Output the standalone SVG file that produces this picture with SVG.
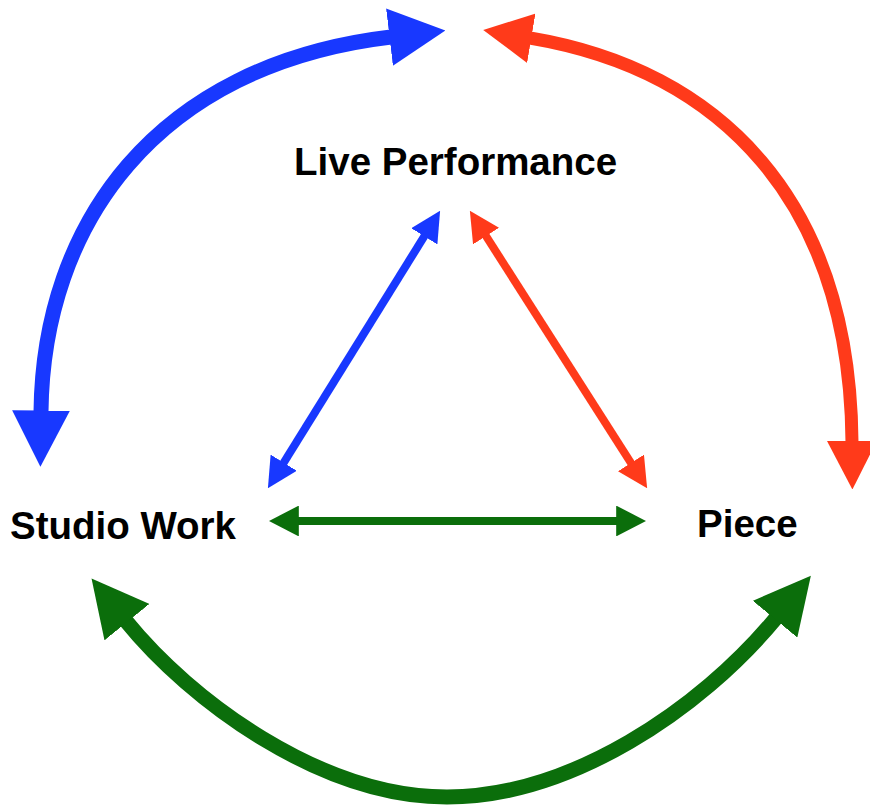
<svg xmlns="http://www.w3.org/2000/svg" width="870" height="806" viewBox="0 0 870 806">
  <style>
    .label { font-family: "Liberation Sans", Arial, Helvetica, sans-serif; font-weight: bold; font-size: 38.5px; fill: #000; }
    .link { fill: none; stroke-linecap: butt; }
    .blue { stroke: #1838FF; }
    .red { stroke: #FF3A1A; }
    .green { stroke: #0B6E0B; }
    .thick { stroke-width: 15; }
    .thin { stroke-width: 8; }
  </style>
  <defs>
    <!-- arrowheads sized in stroke-width units so thick and thin links share them -->
    <marker id="head-blue" viewBox="0 0 37.5 38.5" refX="1" refY="19.25" markerWidth="3.75" markerHeight="3.85" orient="auto-start-reverse">
      <path d="M0,0 L37.5,19.25 L0,38.5 Z" fill="#1838FF"/>
    </marker>
    <marker id="head-red" viewBox="0 0 37.5 38.5" refX="1" refY="19.25" markerWidth="3.75" markerHeight="3.85" orient="auto-start-reverse">
      <path d="M0,0 L37.5,19.25 L0,38.5 Z" fill="#FF3A1A"/>
    </marker>
    <marker id="head-green" viewBox="0 0 37.5 38.5" refX="1" refY="19.25" markerWidth="3.75" markerHeight="3.85" orient="auto-start-reverse">
      <path d="M0,0 L37.5,19.25 L0,38.5 Z" fill="#0B6E0B"/>
    </marker>
  </defs>

  <rect width="870" height="806" fill="#ffffff"/>

  <g id="connectors">
    <!-- outer arcs -->
    <path id="arc-studio-live" class="link blue thick" d="M41,412 C43,225 155,65 391,37" marker-start="url(#head-blue)" marker-end="url(#head-blue)"/>
    <path id="arc-live-piece" class="link red" stroke-width="13" d="M530,38 C720,70 850,200 852,442" marker-start="url(#head-red)" marker-end="url(#head-red)"/>
    <path id="arc-studio-piece" class="link green thick" d="M126,621 C190,700 320,797 447,797 C570,797 700,710 776,618" marker-start="url(#head-green)" marker-end="url(#head-green)"/>
    <!-- inner triangle -->
    <path id="edge-studio-live" class="link blue thin" d="M283.3,463.4 L424.7,235.6" marker-start="url(#head-blue)" marker-end="url(#head-blue)"/>
    <path id="edge-live-piece" class="link red thin" d="M485.6,235.4 L631.4,463.6" marker-start="url(#head-red)" marker-end="url(#head-red)"/>
    <path id="edge-studio-piece" class="link green thin" d="M298,521 L617,521" marker-start="url(#head-green)" marker-end="url(#head-green)"/>
  </g>

  <g id="node-live-performance">
    <text class="label" x="294" y="175">Live Performance</text>
  </g>
  <g id="node-studio-work">
    <text class="label" x="10" y="539">Studio Work</text>
  </g>
  <g id="node-piece">
    <text class="label" x="697" y="537">Piece</text>
  </g>
</svg>
